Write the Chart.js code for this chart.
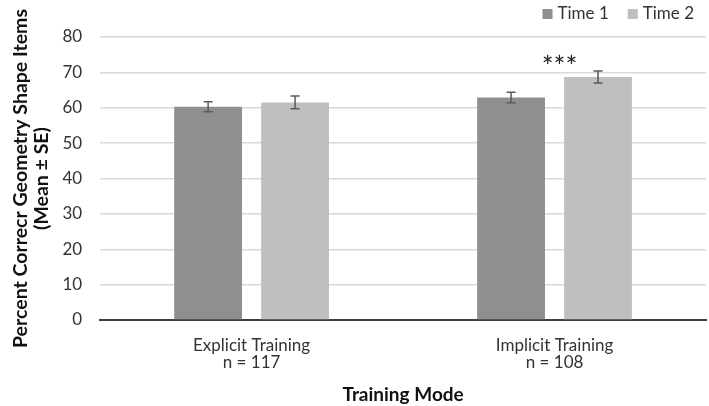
<!DOCTYPE html>
<html>
<head>
<meta charset="utf-8">
<script src="https://cdn.jsdelivr.net/npm/chart.js@4/dist/chart.umd.min.js"></script>
<style>
html,body{margin:0;padding:0;background:#fff;}
#wrap{width:709px;height:406px;}
</style>
</head>
<body>
<div id="wrap"><canvas id="c" width="709" height="406"></canvas></div>
<script>
const categories = [['Explicit Training', 'n = 117'], ['Implicit Training', 'n = 108']];
const seriesNames = ['Time 1', 'Time 2'];
const time1 = [60.3, 62.9];
const time2 = [61.5, 68.7];
const time1Err = [1.4, 1.5];
const time2Err = [1.8, 1.7];
const significance = ['', '***'];
const yMin = 0, yMax = 80, yStep = 10;
const xTitle = 'Training Mode';
const yTitle = ['Percent Correcr Geometry Shape Items', '(Mean ± SE)'];
const seriesColors = ['#8f8f8f', '#bfbfbf'];

const FONT = 'Lato, "Open Sans", sans-serif';
const errors = [time1Err, time2Err];

const errorBars = {
  id: 'errorBars',
  afterDatasetsDraw(chart) {
    const ctx = chart.ctx;
    const ys = chart.scales.y;
    ctx.save();
    ctx.strokeStyle = '#5a5a5a';
    ctx.lineWidth = 1.5;
    chart.data.datasets.forEach((ds, di) => {
      const meta = chart.getDatasetMeta(di);
      meta.data.forEach((bar, i) => {
        const v = ds.data[i], e = errors[di][i];
        const yt = ys.getPixelForValue(v + e);
        const yb = ys.getPixelForValue(v - e);
        const x = bar.x, cap = 4.5;
        ctx.beginPath();
        ctx.moveTo(x, yt); ctx.lineTo(x, yb);
        ctx.moveTo(x - cap, yt); ctx.lineTo(x + cap, yt);
        ctx.moveTo(x - cap, yb); ctx.lineTo(x + cap, yb);
        ctx.stroke();
      });
    });
    const xs = chart.scales.x;
    ctx.fillStyle = '#222';
    ctx.font = '28px ' + FONT;
    ctx.textAlign = 'center';
    ctx.textBaseline = 'middle';
    significance.forEach((s, i) => {
      if (!s) return;
      const top = Math.max(time1[i] + time1Err[i], time2[i] + time2Err[i]);
      const x = xs.getPixelForValue(i) + 5;
      const y = ys.getPixelForValue(top) - 3;
      ctx.fillText(s, x, y);
    });
    ctx.restore();
  },
  afterDraw(chart) {
    const ctx = chart.ctx;
    ctx.save();
    ctx.font = '17px ' + FONT;
    ctx.textBaseline = 'middle';
    ctx.textAlign = 'left';
    let x = chart.chartArea.right - 12;
    const y = 14;
    for (let i = seriesNames.length - 1; i >= 0; i--) {
      const w = ctx.measureText(seriesNames[i]).width;
      x -= w;
      ctx.fillStyle = '#333';
      ctx.fillText(seriesNames[i], x, y);
      x -= 5 + 10;
      ctx.fillStyle = seriesColors[i];
      ctx.fillRect(x, y - 5, 10, 10);
      x -= 19;
    }
    ctx.restore();
  }
};

new Chart(document.getElementById('c'), {
  type: 'bar',
  data: {
    labels: categories,
    datasets: [
      { label: seriesNames[0], data: time1, backgroundColor: seriesColors[0], barPercentage: 0.78, categoryPercentage: 0.574 },
      { label: seriesNames[1], data: time2, backgroundColor: seriesColors[1], barPercentage: 0.78, categoryPercentage: 0.574 }
    ]
  },
  options: {
    responsive: false,
    animation: false,
    devicePixelRatio: 1,
    layout: { padding: { left: 10, right: 3, top: 37, bottom: 0 } },
    plugins: {
      legend: { display: false },
      tooltip: { enabled: false }
    },
    scales: {
      x: {
        grid: { display: false, drawTicks: false },
        border: { display: true, color: '#404040', width: 2 },
        ticks: { font: { family: FONT, size: 17, lineHeight: 1.0 }, color: '#333', padding: 17 },
        title: { display: true, text: xTitle, font: { family: FONT, size: 19, weight: 'bold', lineHeight: 1.0 }, color: '#111', padding: { top: -2.5, bottom: 1.5 } }
      },
      y: {
        min: yMin, max: yMax,
        ticks: { stepSize: yStep, font: { family: FONT, size: 17 }, color: '#333', padding: 18 },
        grid: { color: '#d9d9d9', lineWidth: 1.5, drawTicks: false },
        border: { display: false },
        title: { display: true, text: yTitle, font: { family: FONT, size: 19.5, weight: 'bold', lineHeight: 1.1 }, color: '#111', padding: { top: 0, bottom: -8.5 } }
      }
    }
  },
  plugins: [errorBars]
});
</script>
</body>
</html>
